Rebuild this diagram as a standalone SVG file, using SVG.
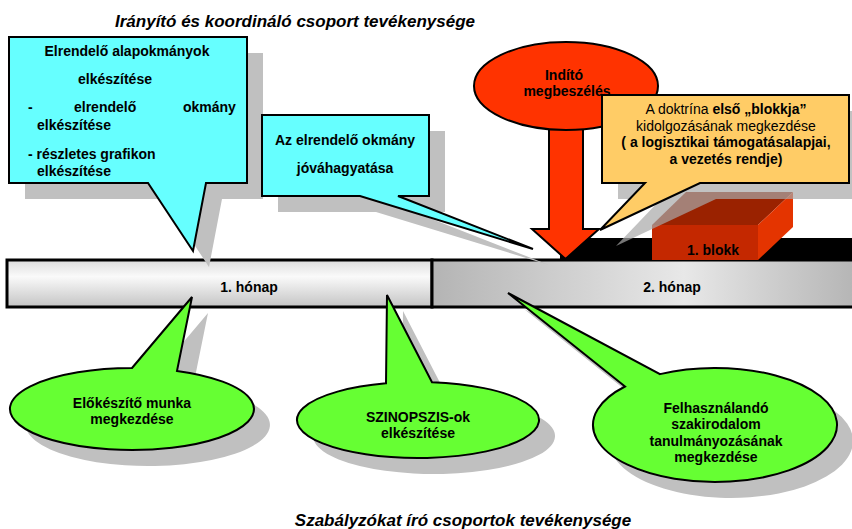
<svg xmlns="http://www.w3.org/2000/svg" width="852" height="529" viewBox="0 0 852 529">
<defs>
<linearGradient id="g1" x1="0" y1="0" x2="0" y2="1">
<stop offset="0" stop-color="#DCDCDC"/><stop offset="0.35" stop-color="#FAFAFA"/><stop offset="1" stop-color="#C4C4C4"/>
</linearGradient>
<linearGradient id="g2" gradientUnits="userSpaceOnUse" x1="432" y1="0" x2="852" y2="0">
<stop offset="0" stop-color="#B4B4B4"/><stop offset="0.6" stop-color="#E8E8E8"/><stop offset="1" stop-color="#B6B6B6"/>
</linearGradient>
</defs>
<style>
.t{font-family:"Liberation Sans",Arial,sans-serif;font-size:14px;font-weight:bold;fill:#000}
.c{text-anchor:middle}
.n{font-weight:normal}
.title{font-family:"Liberation Sans",Arial,sans-serif;font-size:17px;font-weight:bold;font-style:italic;text-anchor:middle;fill:#000}
.sh{fill:#C0C0C0;stroke:none}
.ln{stroke:#000;stroke-width:2;stroke-linejoin:miter}
.cyan{fill:#66FFFF}
.green{fill:#66FF33}
.red{fill:#FF3300}
.yel{fill:#FFCC66}
</style>
<rect width="852" height="529" fill="#fff"/>
<text class="title" x="295" y="27">Irányító és koordináló csoport tevékenysége</text>
<text class="title" x="463" y="526">Szabályzókat író csoportok tevékenysége</text>

<g id="timeline">
<rect x="560" y="238" width="300" height="22" fill="#000"/>
<rect x="7" y="260" width="425" height="47" fill="url(#g1)" stroke="#000" stroke-width="3"/>
<rect x="432" y="260" width="430" height="47" fill="url(#g2)" stroke="#000" stroke-width="3"/>
<text class="t c" x="249" y="292">1. hónap</text>
<text class="t c" x="672" y="292">2. hónap</text>
</g>

<g id="shadows">
<path class="sh" d="M25,53 H263 V199 H222 L209,267 L164,199 H25 Z"/>
<path class="sh" d="M278,131 H445 V212 H414 L549,265 L376,212 H278 Z"/>
<path class="sh" transform="translate(16,16)" d="M132,368 L192,297 L177,370.9 A122,41 0 1 1 132,368 Z"/>
<path class="sh" transform="translate(16,16)" d="M386,383.35 L387,295 L432,382.25 A121,38 0 1 1 386,383.35 Z"/>
<path class="sh" transform="translate(16,16)" d="M625,386.5 L508,293 L660,374.1 A122,57 0 1 1 625,386.5 Z"/>
</g>

<g id="callout-alapokmanyok">
<path class="cyan ln" d="M9,37 H247 V183 H206 L193,251 L148,183 H9 Z"/>
<text class="t c" x="127" y="56">Elrendelő alapokmányok</text>
<text class="t c" x="115" y="84">elkészítése</text>
<text class="t" x="28" y="112">-</text>
<text class="t" x="74" y="112">elrendelő</text>
<text class="t" x="183" y="112">okmány</text>
<text class="t" x="37" y="130">elkészítése</text>
<text class="t" x="28" y="159">- részletes grafikon</text>
<text class="t" x="37" y="176">elkészítése</text>
</g>

<g id="callout-jovahagyatas">
<path class="cyan ln" d="M262,115 H429 V196 H398 L533,249 L360,196 H262 Z"/>
<text class="t c" x="345" y="145">Az elrendelő okmány</text>
<text class="t c" x="345" y="173">jóváhagyatása</text>
</g>

<g id="indito">
<path class="red ln" d="M549,110 V229 H532 L565.5,259 L599,229 H583 V110 Z"/>
<ellipse class="red ln" cx="566" cy="86" rx="92" ry="44"/>
<text class="t c" x="564" y="80">Indító</text>
<text class="t c" x="567" y="96">megbeszélés</text>
</g>

<g id="blokk">
<polygon points="652,225 686,192 793,192 758,225" fill="#9A2200"/>
<polygon points="758,225 793,192 793,227 758,260" fill="#E43400"/>
<rect x="652" y="225" width="106" height="35" fill="#C42800"/>
<text class="t c" x="713" y="255" fill="#1a1a1a">1. blokk</text>
</g>

<g id="callout-doktrina">
<path d="M618,111 H865 V199 H716 L616,246 L661,199 H618 Z" fill="#A8A8A8" opacity="0.7"/>
<path class="yel ln" d="M602,95 H849 V183 H700 L600,230 L645,183 H602 Z"/>
<text class="t c" x="726" y="114"><tspan class="n">A doktrína </tspan>első „blokkja”</text>
<text class="t c n" x="726" y="131">kidolgozásának megkezdése</text>
<text class="t c" x="726" y="147">( a logisztikai támogatásalapjai,</text>
<text class="t c" x="726" y="164">a vezetés rendje)</text>
</g>

<g id="elokeszito">
<path class="green ln" d="M132,368 L192,297 L177,370.9 A122,41 0 1 1 132,368 Z"/>
<text class="t c" x="132" y="408">Előkészítő munka</text>
<text class="t c" x="132" y="424">megkezdése</text>
</g>

<g id="szinopszis">
<path class="green ln" d="M386,383.35 L387,295 L432,382.25 A121,38 0 1 1 386,383.35 Z"/>
<text class="t c" x="418" y="422">SZINOPSZIS-ok</text>
<text class="t c" x="418" y="438">elkészítése</text>
</g>

<g id="szakirodalom">
<path class="green ln" d="M625,386.5 L508,293 L660,374.1 A122,57 0 1 1 625,386.5 Z"/>
<text class="t c" x="716" y="413">Felhasználandó</text>
<text class="t c" x="716" y="429">szakirodalom</text>
<text class="t c" x="716" y="446">tanulmányozásának</text>
<text class="t c" x="716" y="462">megkezdése</text>
</g>
</svg>
